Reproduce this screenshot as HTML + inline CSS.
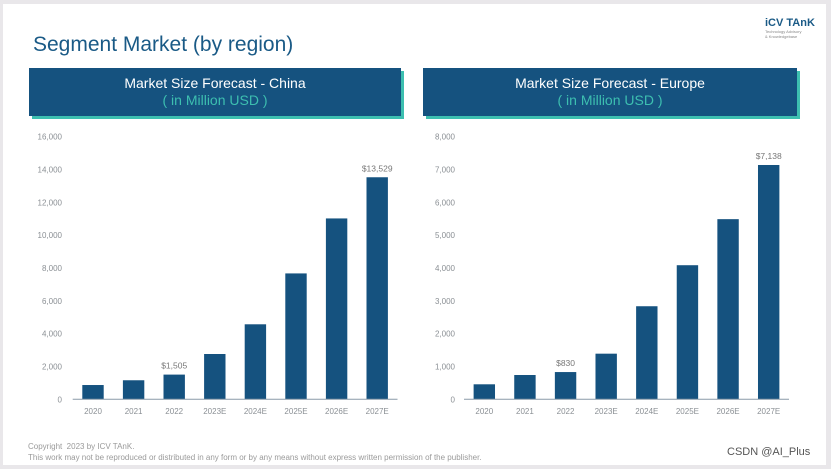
<!DOCTYPE html>
<html><head><meta charset="utf-8"><style>
body{margin:0;width:831px;height:469px;background:#e9e7ea;font-family:"Liberation Sans",sans-serif;overflow:hidden;position:relative}
.card{position:absolute;left:3px;top:4px;width:823px;height:461px;background:#fff}
.title{position:absolute;left:33px;top:33px;font-size:21px;color:#1a5a86}
.box{position:absolute;top:68px;height:48px;background:#15527f;box-shadow:3px 3px 0 #3dbfb0;color:#fff;text-align:center;font-size:14px;line-height:17px;padding-top:7px;box-sizing:border-box}
.box span{color:#3dbfb0}
.logo{position:absolute;left:765px;top:17px;color:#1a5a86;font-size:11px;font-weight:bold}
.logo small{display:block;font-size:4px;color:#888;font-weight:normal;line-height:5px}
.foot{position:absolute;left:28px;font-size:8px;color:#9a9a9a}
svg text{font-family:"Liberation Sans",sans-serif}
</style></head><body>
<div class="card"></div>
<div class="logo">iCV TAnK<small>Technology Advisory<br>&amp; Knowledgebase</small></div>
<div class="title">Segment Market (by region)</div>
<div class="box" style="left:29px;width:372px">Market Size Forecast - China<br><span>( in Million USD )</span></div>
<div class="box" style="left:423px;width:374px">Market Size Forecast - Europe<br><span>( in Million USD )</span></div>
<svg id="chart" width="831" height="469" style="position:absolute;left:0;top:0"></svg>
<div class="foot" style="top:442px">Copyright &nbsp;2023 by ICV TAnK.</div>
<div class="foot" style="top:453px">This work may not be reproduced or distributed in any form or by any means without express written permission of the publisher.</div>
<div style="position:absolute;left:727px;top:446px;font-size:11px;color:#555">CSDN @AI_Plus</div>
<script>
const categories=["2020","2021","2022","2023E","2024E","2025E","2026E","2027E"];
const chinaValues=[870,1160,1505,2760,4570,7670,11020,13529];
const europeValues=[457,740,830,1390,2835,4085,5488,7138];
const chinaTicks=[0,2000,4000,6000,8000,10000,12000,14000,16000];
const europeTicks=[0,1000,2000,3000,4000,5000,6000,7000,8000];
const chinaLabels={2:"$1,505",7:"$13,529"};
const europeLabels={2:"$830",7:"$7,138"};
const svg=document.getElementById('chart');
const NS="http://www.w3.org/2000/svg";
function mk(t,a){const e=document.createElementNS(NS,t);for(const k in a)e.setAttribute(k,a[k]);svg.appendChild(e);return e;}
function draw(prefix,vals,ticks,labels,x0,x1,yTickX){
  const yb=399.3,yt=136.7,max=ticks[ticks.length-1];
  const y=v=>yb-(yb-yt)*v/max;
  const step=(x1-x0)/categories.length;
  const xc=i=>x0+step*(i+0.5);
  ticks.forEach(t=>{const e=mk('text',{x:yTickX,y:y(t)+3,'text-anchor':'end','font-size':8,fill:'#8a8f94'});e.textContent=t.toLocaleString('en-US');
    
    });
  vals.forEach((v,i)=>{
    const r=mk('rect',{x:xc(i)-10.7,y:y(v),width:21.4,height:yb-y(v),fill:'#15527f'});
    
    
    const t=mk('text',{x:xc(i),y:414,'text-anchor':'middle','font-size':8,fill:'#8a8f94'});t.textContent=categories[i];
    
    
    if(labels[i]){const l=mk('text',{x:xc(i),y:y(v)-6,'text-anchor':'middle','font-size':8.5,fill:'#777'});l.textContent=labels[i];
      
      }
  });
  const ax=mk('line',{x1:x0,x2:x1,y1:yb,y2:yb,stroke:'#8a9aa8','stroke-width':1});
  
  
}
draw('china',chinaValues,chinaTicks,chinaLabels,72.7,397.5,62);
draw('europe',europeValues,europeTicks,europeLabels,464,789,455);
</script>
</body></html>
